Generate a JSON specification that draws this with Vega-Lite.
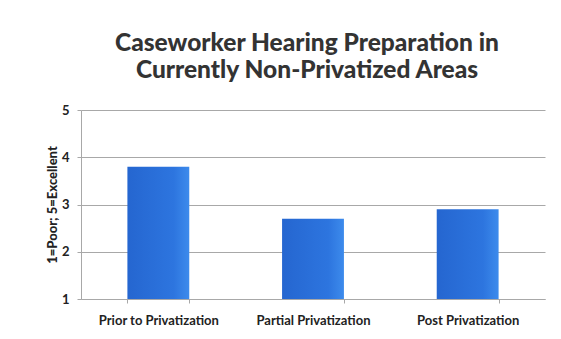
{
  "$schema": "https://vega.github.io/schema/vega-lite/v6.json",
  "width": 464,
  "height": 189,
  "autosize": {"type": "none"},
  "padding": {"left": 81, "top": 110, "right": 16, "bottom": 40},
  "background": "white",
  "title": {
    "text": ["Caseworker Hearing Preparation in", "Currently Non-Privatized Areas"],
    "font": "Lato",
    "fontSize": 24.5,
    "fontWeight": 900,
    "color": "#333333",
    "anchor": "middle",
    "dx": -6,
    "offset": 21,
    "lineHeight": 27
  },
  "data": {
    "values": [
      {"stage": "Prior to Privatization", "rating": 3.8},
      {"stage": "Partial Privatization", "rating": 2.7},
      {"stage": "Post Privatization", "rating": 2.9}
    ]
  },
  "mark": {
    "type": "bar",
    "color": {
      "x1": 0, "y1": 0, "x2": 1, "y2": 0,
      "gradient": "linear",
      "stops": [
        {"offset": 0, "color": "#2566d0"},
        {"offset": 0.75, "color": "#2d75df"},
        {"offset": 1, "color": "#3d8bec"}
      ]
    }
  },
  "encoding": {
    "x": {
      "field": "stage",
      "type": "nominal",
      "sort": null,
      "scale": {"paddingInner": 0.6, "paddingOuter": 0.3},
      "axis": {
        "title": null,
        "labelAngle": 0,
        "labelFont": "Lato",
        "labelFontSize": 13,
        "labelFontWeight": "bold",
        "labelColor": "#222222",
        "labelPadding": 11,
        "tickBand": "extent",
        "ticks": true,
        "tickSize": 4,
        "tickColor": "#a8a8a8",
        "domainColor": "#a8a8a8",
        "grid": false
      }
    },
    "y": {
      "field": "rating",
      "type": "quantitative",
      "scale": {"domain": [1, 5], "nice": false, "zero": false},
      "axis": {
        "title": "1=Poor; 5=Excellent",
        "titleFont": "Lato",
        "titleFontSize": 13,
        "titleFontWeight": 900,
        "titleColor": "#222222",
        "titlePadding": 2,
        "values": [1, 2, 3, 4, 5],
        "format": "d",
        "labelFont": "Lato",
        "labelFontSize": 13,
        "labelFontWeight": "bold",
        "labelColor": "#222222",
        "labelPadding": 8,
        "tickSize": 4,
        "tickColor": "#a8a8a8",
        "domainColor": "#a8a8a8",
        "gridColor": "#a8a8a8",
        "grid": true
      }
    },
    "y2": {"datum": 1}
  },
  "config": {"view": {"stroke": null}}
}
